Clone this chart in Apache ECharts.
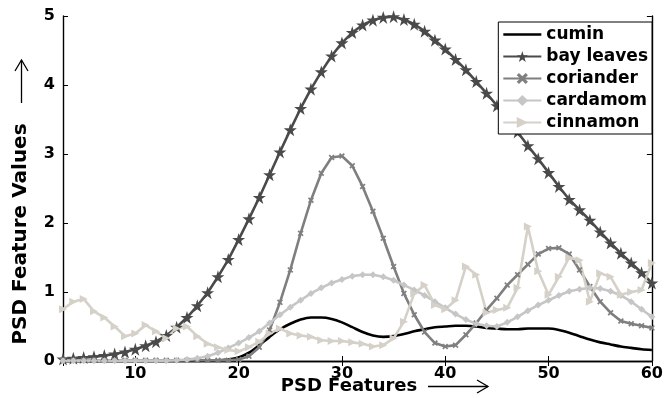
<!DOCTYPE html>
<html><head><meta charset="utf-8">
<script src="https://cdn.jsdelivr.net/npm/echarts@6/dist/echarts.min.js"></script>
<style>html,body{margin:0;padding:0;background:#fff}#c{width:666px;height:398px}</style>
</head><body><div id="c"></div>
<script>
const xValues = [3,4,5,6,7,8,9,10,11,12,13,14,15,16,17,18,19,20,21,22,23,24,25,26,27,28,29,30,31,32,33,34,35,36,37,38,39,40,41,42,43,44,45,46,47,48,49,50,51,52,53,54,55,56,57,58,59,60];
const seriesNames = ['cumin','bay leaves','coriander','cardamom','cinnamon'];
const cumin = [0,0,0,0,0,0,0,0,0,0,0,0,0,0,0.005,0.01,
  0.02,0.05,0.12,0.23,0.35,0.46,0.54,0.60,0.63,0.63,0.61,0.56,0.49,0.42,0.37,0.35,0.36,0.39,0.43,0.46,0.49,0.50,0.51,0.51,0.50,0.48,0.47,0.46,0.46,0.47,0.47,0.47,0.45,0.41,0.36,0.31,0.27,0.24,0.21,0.19,0.17,0.16];
const bayLeaves = [0.03,0.04,0.05,0.06,0.08,0.10,0.13,0.17,0.22,0.28,
  0.37,0.49,0.63,0.80,0.99,1.22,1.47,1.76,2.06,2.37,
  2.70,3.03,3.35,3.66,3.94,4.19,4.42,4.61,4.76,4.87,
  4.94,4.98,4.99,4.95,4.88,4.78,4.65,4.52,4.37,4.22,
  4.05,3.88,3.70,3.51,3.32,3.12,2.93,2.73,2.53,2.34,
  2.19,2.04,1.87,1.71,1.56,1.42,1.28,1.13];
const coriander = [0.01,0.01,0.01,0.01,0.01,0.01,0.01,0.01,0.01,0.01,0.01,0.01,0.01,0.01,0.01,0.01,0.01,
  0.02,0.07,0.20,0.45,0.85,1.32,1.85,2.33,2.72,2.95,2.97,2.83,2.53,2.17,1.78,1.37,0.98,0.67,0.42,0.26,0.21,0.23,0.38,0.55,0.74,0.91,1.10,1.25,1.40,1.55,1.63,1.64,1.55,1.32,1.08,0.86,0.70,0.58,0.54,0.51,0.48];
const cardamom = [0.005,0.005,0.005,0.005,0.005,0.005,0.005,0.005,0.005,0.005,0.005,0.01,
  0.02,0.04,0.07,0.12,0.19,0.26,0.34,0.43,0.55,0.67,0.78,0.88,0.98,1.06,1.13,1.18,1.23,1.25,1.25,1.22,1.17,1.10,1.03,0.95,0.86,0.77,0.68,0.60,0.54,0.51,0.50,0.56,0.64,0.73,0.81,0.88,0.95,1.01,1.04,1.06,1.05,1.01,0.95,0.86,0.75,0.64];
const cinnamon = [0.75,0.86,0.90,0.72,0.63,0.50,0.36,0.40,0.52,0.43,
  0.33,0.47,0.50,0.36,0.25,0.20,0.16,0.14,0.20,0.28,
  0.40,0.47,0.40,0.37,0.35,0.30,0.29,0.29,0.27,0.25,
  0.21,0.23,0.33,0.57,0.98,1.10,0.81,0.75,0.88,1.37,
  1.25,0.70,0.74,0.77,1.06,1.95,1.30,0.96,1.22,1.50,
  1.46,0.86,1.27,1.22,0.96,1.00,1.03,1.42];
const yTicks = [0,1,2,3,4,5];

const F = 'DejaVu Sans';
const STAR = 'path://M50,0L61.2,34.5L97.6,34.5L68.2,55.9L79.4,90.5L50,69.1L20.6,90.5L31.8,55.9L2.4,34.5L38.8,34.5Z';
const XMARK = 'path://M0,20L20,0L50,30L80,0L100,20L70,50L100,80L80,100L50,70L20,100L0,80L30,50Z';
const LINEICON = 'path://M0,0L100,0L100,7L0,7Z';

function mk(name, vals, color, symbol, size, extra) {
  return Object.assign({
    type: 'line', name: name,
    data: xValues.map((x, i) => [x, vals[i]]),
    symbol: symbol, symbolSize: size, showSymbol: symbol !== 'none',
    lineStyle: { color: color, width: 2.6 },
    itemStyle: { color: color },
    animation: false
  }, extra || {});
}

const chart = echarts.init(document.getElementById('c'), null, { renderer: 'canvas' });
const axisLine = { show: true, lineStyle: { color: '#000', width: 1.4 } };
const tick = { show: true, inside: true, length: 5, lineStyle: { color: '#000', width: 1 } };
chart.setOption({
  animation: false,
  backgroundColor: '#fff',
  grid: { left: 63, right: 12, top: 16, bottom: 37 },
  xAxis: [
    { type: 'value', min: 3, max: 60, position: 'bottom', axisLine: axisLine, axisTick: tick,
      splitLine: { show: false },
      axisLabel: { color: '#000', fontFamily: F, fontWeight: 'bold', fontSize: 16, margin: 5,
        formatter: v => (v % 10 === 0 ? String(v) : '') } },
    { type: 'value', min: 3, max: 60, position: 'top', axisLine: axisLine, axisTick: tick,
      splitLine: { show: false }, axisLabel: { show: false } }
  ],
  yAxis: [
    { type: 'value', min: 0, max: 5, interval: 1, position: 'left', axisLine: axisLine, axisTick: tick,
      splitLine: { show: false },
      axisLabel: { color: '#000', fontFamily: F, fontWeight: 'bold', fontSize: 16, margin: 8,
        formatter: v => (yTicks.indexOf(v) >= 0 ? String(v) : '') } },
    { type: 'value', min: 0, max: 5, interval: 1, position: 'right', axisLine: axisLine, axisTick: tick,
      splitLine: { show: false }, axisLabel: { show: false } }
  ],
  legend: {
    right: 14, top: 22, orient: 'vertical',
    backgroundColor: '#fff', borderColor: '#000', borderWidth: 1,
    padding: [4, 4, 3, 4], itemGap: 5, itemWidth: 38, itemHeight: 14,
    textStyle: { fontFamily: F, fontWeight: 'bold', fontSize: 17, lineHeight: 17, color: '#000' },
    data: [{ name: seriesNames[0], icon: LINEICON }].concat(seriesNames.slice(1))
  },
  series: [
    mk(seriesNames[0], cumin, '#000000', 'none', 0, { smooth: 0.3 }),
    mk(seriesNames[1], bayLeaves, '#4a4a4a', STAR, 13),
    mk(seriesNames[2], coriander, '#7f7f7f', XMARK, 6),
    mk(seriesNames[3], cardamom, '#c6c6c6', 'diamond', 7),
    mk(seriesNames[4], cinnamon, '#d5d1c9', 'triangle', 8, { symbolRotate: -90 })
  ],
  graphic: [
    { type: 'text', x: 349, y: 386, style: { text: 'PSD Features', fontFamily: F, fontWeight: 'bold', fontSize: 18, fill: '#000', align: 'center', verticalAlign: 'middle' } },
    { type: 'polyline', shape: { points: [[428, 386.5], [488, 386.5]] }, style: { stroke: '#000', lineWidth: 1.3 } },
    { type: 'polyline', shape: { points: [[477, 380], [488, 386.5], [477, 393]] }, style: { stroke: '#000', lineWidth: 1.3, fill: null } },
    { type: 'text', x: 21, y: 234, rotation: Math.PI / 2, style: { text: 'PSD Feature Values', fontFamily: F, fontWeight: 'bold', fontSize: 20, fill: '#000', align: 'center', verticalAlign: 'middle' } },
    { type: 'polyline', shape: { points: [[21.5, 103], [21.5, 60]] }, style: { stroke: '#000', lineWidth: 1.3 } },
    { type: 'polyline', shape: { points: [[15, 71], [21.5, 60], [28, 71]] }, style: { stroke: '#000', lineWidth: 1.3, fill: null } }
  ]
});
</script>
</body></html>
